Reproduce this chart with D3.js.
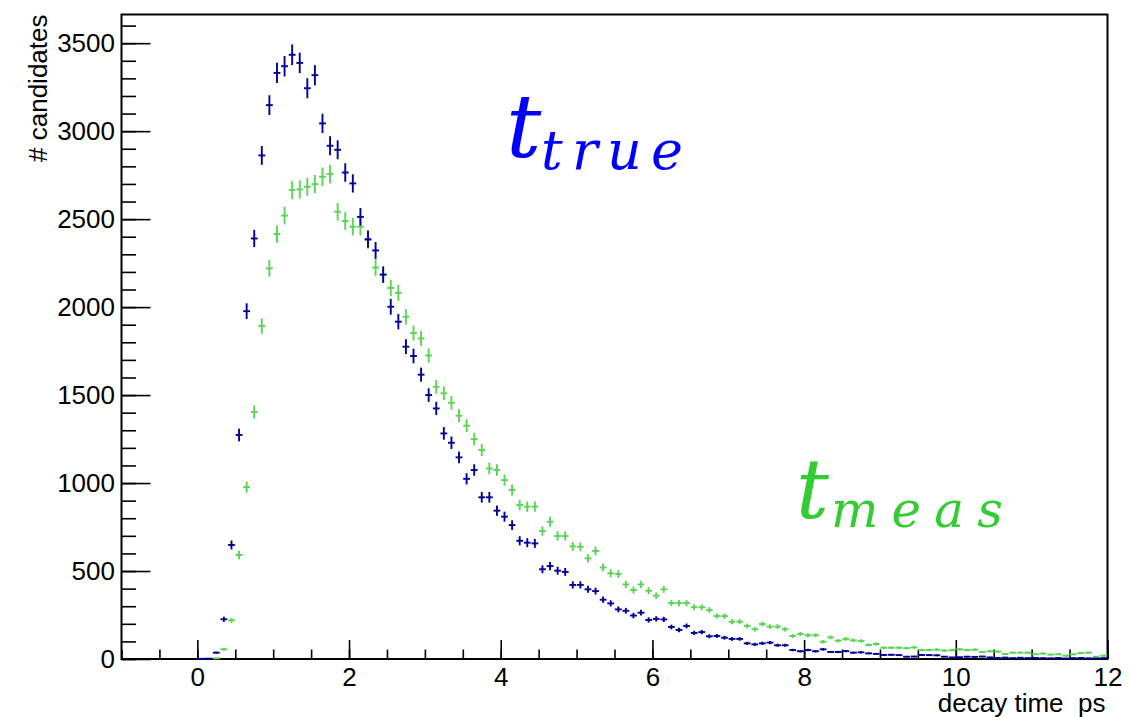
<!DOCTYPE html>
<html>
<head>
<meta charset="utf-8">
<script src="https://cdn.jsdelivr.net/npm/d3@7"></script>
<style>
    body { margin: 0; background: #ffffff; }
    #chart { width: 1132px; height: 717px; }
</style>
</head>
<body>
<div id="chart"></div>
<script>
// Histogram binning: 120 bins of 0.1 ps from 0 to 12
const binLowEdge = 0;
const binWidth = 0.1;

// Candidates per bin, true decay time
const tTrueCounts = [
    1, 2, 36, 226, 648, 1273, 1977, 2390, 2862, 3148,
    3331, 3369, 3434, 3388, 3244, 3318, 3044, 2917, 2894, 2765,
    2703, 2513, 2386, 2322, 2185, 2002, 1917, 1775, 1722, 1616,
    1500, 1424, 1282, 1229, 1146, 1024, 1074, 919, 919, 843,
    809, 761, 672, 661, 657, 510, 528, 502, 495, 421,
    421, 396, 386, 337, 316, 282, 274, 247, 263, 222,
    228, 225, 182, 165, 188, 148, 153, 129, 131, 121,
    114, 114, 89, 83, 89, 93, 78, 78, 51, 44,
    51, 44, 55, 40, 40, 45, 36, 38, 32, 29,
    23, 24, 22, 13, 14, 23, 22, 21, 13, 9,
    10, 13, 12, 14, 9, 6, 8, 5, 7, 5,
    6, 5, 4, 6, 3, 5, 6, 4, 3, 5
];

// Candidates per bin, measured decay time
const tMeasCounts = [
    0, 0, 4, 55, 220, 591, 977, 1403, 1892, 2220,
    2415, 2520, 2665, 2669, 2684, 2699, 2741, 2756, 2542, 2489,
    2457, 2457, 2381, 2225, 2183, 2109, 2081, 1945, 1852, 1822,
    1725, 1547, 1510, 1456, 1383, 1326, 1250, 1188, 1083, 1074,
    1017, 960, 875, 866, 866, 727, 780, 699, 699, 640,
    638, 572, 614, 520, 487, 483, 424, 392, 424, 388,
    360, 396, 318, 318, 318, 294, 294, 278, 244, 244,
    212, 212, 188, 169, 199, 184, 184, 169, 131, 142,
    135, 135, 98, 123, 104, 114, 106, 102, 80, 85,
    64, 64, 64, 62, 66, 51, 51, 53, 48, 51,
    55, 51, 53, 40, 44, 42, 28, 36, 36, 36,
    27, 31, 25, 27, 19, 27, 34, 36, 13, 19
];

// Axis ranges and tick labels
const xRange = [-1, 12];
const yRange = [0, 3663];
const xTickValues = [0, 2, 4, 6, 8, 10, 12];
const yTickValues = [0, 500, 1000, 1500, 2000, 2500, 3000, 3500];
const xTitle = "decay time  ps";
const yTitle = "# candidates";

class HistoChart {
    constructor(element) {
        this.element = element;
        this.initVis();
    }

    initVis() {
        const vis = this;

        vis.margin = {top: 14.5, right: 24.5, bottom: 58, left: 121.5};
        vis.totalWidth = 1132;
        vis.totalHeight = 717;
        vis.width = vis.totalWidth - vis.margin.left - vis.margin.right;
        vis.height = vis.totalHeight - vis.margin.top - vis.margin.bottom;

        vis.svg = d3.select("#" + vis.element)
            .append("svg")
            .attr("width", vis.totalWidth)
            .attr("height", vis.totalHeight)
            .append("g")
            .attr("transform", `translate(${vis.margin.left}, ${vis.margin.top})`);

        vis.x = d3.scaleLinear().domain(xRange).range([0, vis.width]);
        vis.y = d3.scaleLinear().domain(yRange).range([vis.height, 0]);

        vis.font = "'Liberation Sans', Arial, Helvetica, sans-serif";

        vis.drawAxes();
        vis.updateVis();
    }

    drawAxes() {
        const vis = this;

        // minor ticks first, ROOT style: ticks point into the frame
        const xMinor = d3.range(xRange[0], xRange[1] + 0.001, 0.5);
        const yMinor = d3.range(0, yRange[1], 100);

        vis.svg.append("g")
            .attr("transform", `translate(0, ${vis.height})`)
            .call(d3.axisBottom(vis.x).tickValues(xMinor).tickSize(-9.5).tickSizeOuter(0).tickFormat(""))
            .call(g => g.select(".domain").remove());

        vis.svg.append("g")
            .call(d3.axisLeft(vis.y).tickValues(yMinor).tickSize(-14.5).tickSizeOuter(0).tickFormat(""))
            .call(g => g.select(".domain").remove());

        // major ticks with labels
        vis.svg.append("g")
            .attr("transform", `translate(0, ${vis.height})`)
            .call(d3.axisBottom(vis.x).tickValues(xTickValues).tickSize(-19).tickSizeOuter(0).tickPadding(9).tickFormat(d3.format("d")))
            .call(g => g.select(".domain").remove())
            .call(g => g.selectAll("text").attr("font-size", "26px").attr("font-family", vis.font).attr("fill", "#000"));

        vis.svg.append("g")
            .call(d3.axisLeft(vis.y).tickValues(yTickValues).tickSize(-29).tickSizeOuter(0).tickPadding(6.5).tickFormat(d3.format("d")))
            .call(g => g.select(".domain").remove())
            .call(g => g.selectAll("text").attr("font-size", "26px").attr("font-family", vis.font).attr("fill", "#000"));

        vis.svg.selectAll(".tick line")
            .attr("stroke", "#000")
            .attr("stroke-width", 1.6);

        // frame
        vis.svg.append("rect")
            .attr("x", 0)
            .attr("y", 0)
            .attr("width", vis.width)
            .attr("height", vis.height)
            .attr("fill", "none")
            .attr("stroke", "#000")
            .attr("stroke-width", 2);

        // axis titles
        vis.svg.append("text")
            .attr("x", vis.width - 2)
            .attr("y", vis.height + 53)
            .attr("text-anchor", "end")
            .attr("font-size", "26px")
            .attr("font-family", vis.font)
            .style("white-space", "pre")
            .text(xTitle);

        vis.svg.append("text")
            .attr("transform", `translate(${47 - vis.margin.left}, 0) rotate(-90)`)
            .attr("text-anchor", "end")
            .attr("font-size", "26px")
            .attr("font-family", vis.font)
            .text(yTitle);
    }

    drawSeries(counts, color) {
        const vis = this;

        const bins = counts.map((c, i) => ({
            center: binLowEdge + (i + 0.5) * binWidth,
            value: c,
            err: Math.sqrt(c)
        })).filter(d => d.value > 0);

        const g = vis.svg.append("g")
            .attr("stroke", color)
            .attr("stroke-width", 1.9);

        const half = binWidth * 0.45;

        // horizontal bars
        g.selectAll(".hbar")
            .data(bins)
            .enter()
            .append("line")
            .attr("x1", d => vis.x(d.center - half))
            .attr("x2", d => vis.x(d.center + half))
            .attr("y1", d => vis.y(d.value))
            .attr("y2", d => vis.y(d.value));

        // vertical error bars
        g.selectAll(".vbar")
            .data(bins)
            .enter()
            .append("line")
            .attr("x1", d => vis.x(d.center))
            .attr("x2", d => vis.x(d.center))
            .attr("y1", d => vis.y(d.value - d.err))
            .attr("y2", d => vis.y(d.value + d.err));
    }

    updateVis() {
        const vis = this;

        vis.drawSeries(tMeasCounts, "#59d454");
        vis.drawSeries(tTrueCounts, "#000099");

        // LaTeX-like labels
        const serif = "'DejaVu Serif', 'Liberation Serif', serif";

        const labels = [
            {main: "t", sub: "true", color: "#0000ff", x: 506, y: 157, subX: 541, subY: 169, size: 88, subSize: 54, subLen: 142},
            {main: "t", sub: "meas", color: "#33cc33", x: 796, y: 518, subX: 831, subY: 527, size: 82, subSize: 50, subLen: 172}
        ];

        labels.forEach(l => {
            vis.svg.append("text")
                .attr("x", l.x - vis.margin.left)
                .attr("y", l.y - vis.margin.top)
                .attr("font-family", serif)
                .attr("font-style", "italic")
                .attr("font-size", l.size + "px")
                .attr("fill", l.color)
                .text(l.main);

            vis.svg.append("text")
                .attr("x", l.subX - vis.margin.left)
                .attr("y", l.subY - vis.margin.top)
                .attr("font-family", serif)
                .attr("font-style", "italic")
                .attr("font-size", l.subSize + "px")
                .attr("fill", l.color)
                .attr("textLength", l.subLen)
                .attr("lengthAdjust", "spacing")
                .text(l.sub);
        });
    }
}

new HistoChart("chart");
</script>
</body>
</html>
